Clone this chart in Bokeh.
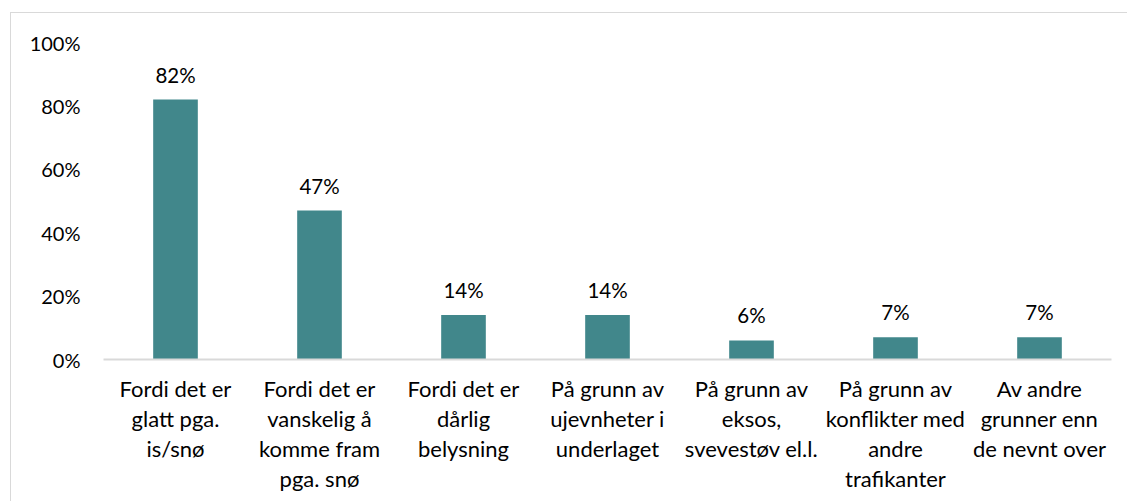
from bokeh.plotting import figure
from bokeh.models import ColumnDataSource, FixedTicker, PrintfTickFormatter, FactorRange, Range1d
from bokeh.core.properties import value
from bokeh.embed import file_html
from bokeh.resources import INLINE

categories = [
    "Fordi det er\nglatt pga.\nis/snø",
    "Fordi det er\nvanskelig å\nkomme fram\npga. snø",
    "Fordi det er\ndårlig\nbelysning",
    "På grunn av\nujevnheter i\nunderlaget",
    "På grunn av\neksos,\nsvevestøv el.l.",
    "På grunn av\nkonflikter med\nandre\ntrafikanter",
    "Av andre\ngrunner enn\nde nevnt over",
]
values = [82, 47, 14, 14, 6, 7, 7]
y_ticks = [0, 20, 40, 60, 80, 100]

labels = [f"{v}%" for v in values]
source = ColumnDataSource(data=dict(cat=categories, val=values, lab=labels))

FONT = "Lato"
TEXT_COLOR = "#000000"
BAR_COLOR = "#41878B"
AXIS_COLOR = "#D9D9D9"

p = figure(
    x_range=FactorRange(factors=categories),
    y_range=Range1d(0, 100),
    width=1117, height=489,
    output_backend="svg", toolbar_location=None,
    min_border_left=92, min_border_right=17, min_border_top=29, min_border_bottom=143,
)
p.styles = {
    "border-top": "1px solid #D9D9D9",
    "border-left": "1px solid #D9D9D9",
    "margin-top": "12px",
    "margin-left": "10px",
    "margin-bottom": "-30px",
}

p.vbar(x="cat", top="val", width=0.31, source=source, color=BAR_COLOR, line_color=None)
p.text(x="cat", y="val", text="lab", source=source, text_align="center",
       text_baseline="alphabetic", y_offset=-25, text_font=value(FONT),
       text_font_size="20.5px", text_color=TEXT_COLOR)

p.outline_line_color = None
p.xgrid.grid_line_color = None
p.ygrid.grid_line_color = None

p.yaxis.ticker = FixedTicker(ticks=y_ticks)
p.yaxis.formatter = PrintfTickFormatter(format="%d%%")
p.yaxis.axis_line_color = None
p.yaxis.major_tick_line_color = None
p.yaxis.minor_tick_line_color = None
p.yaxis.major_tick_out = 0
p.yaxis.major_tick_in = 0
p.yaxis.major_label_standoff = 23
p.yaxis.major_label_text_font = FONT
p.yaxis.major_label_text_font_size = "20px"
p.yaxis.major_label_text_color = TEXT_COLOR

p.xaxis.axis_line_color = AXIS_COLOR
p.xaxis.axis_line_width = 2
p.xaxis.major_tick_line_color = None
p.xaxis.minor_tick_line_color = None
p.xaxis.major_tick_out = 0
p.xaxis.major_tick_in = 0
p.xaxis.major_label_standoff = 15
p.xaxis.major_label_text_font = FONT
p.xaxis.major_label_text_font_size = "22px"
p.xaxis.major_label_text_color = TEXT_COLOR
p.xaxis.major_label_text_line_height = 1.12
p.xaxis.major_label_orientation = "horizontal"

open("out.html", "w").write(file_html(p, INLINE))
